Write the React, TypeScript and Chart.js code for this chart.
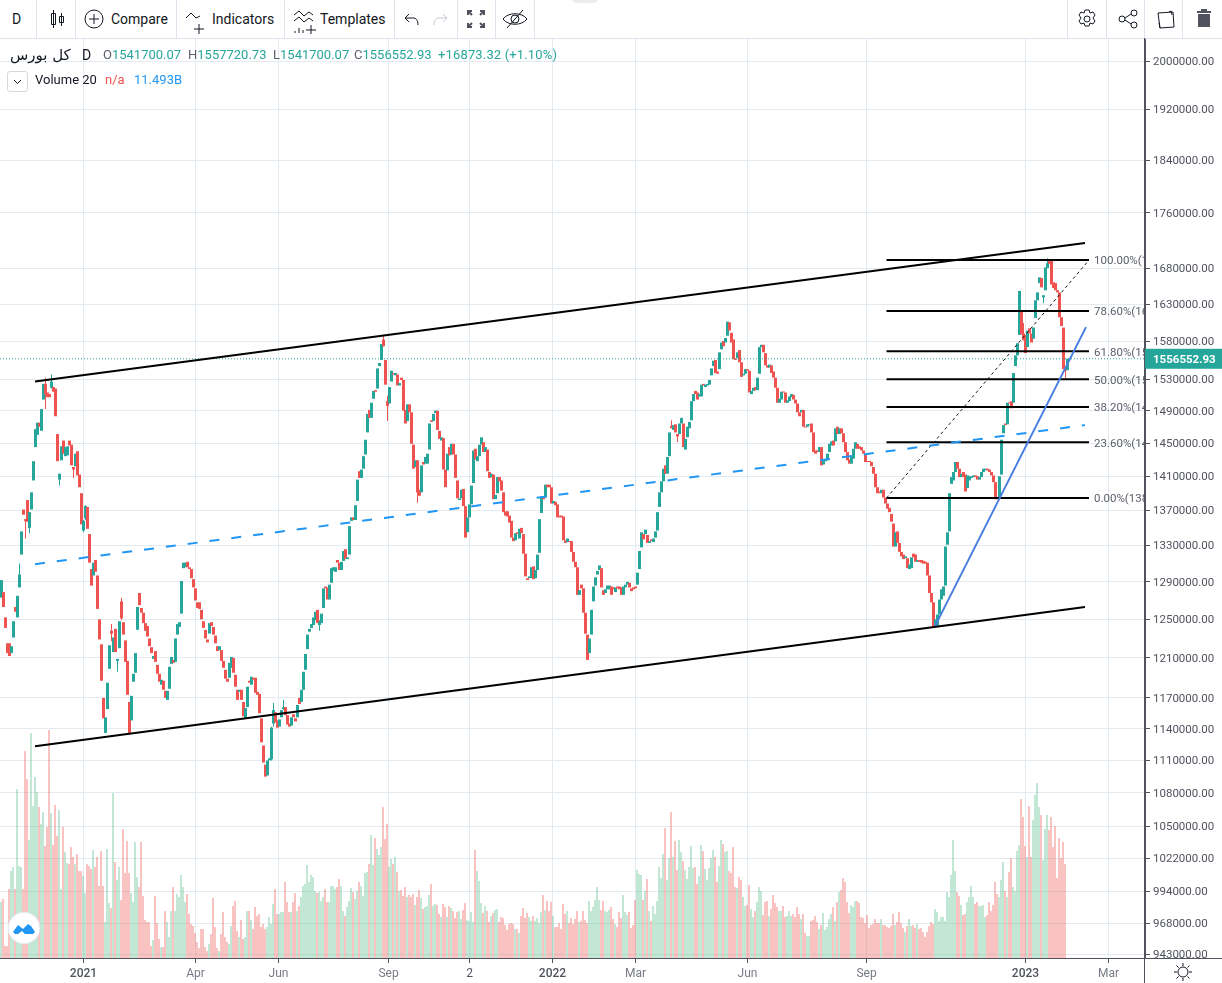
import React, { useEffect, useRef } from "react";
import { Chart, registerables } from "chart.js";

Chart.register(...registerables);

// prices in thousands, one candle per trading day
const opens = [
  1273,1279,1252,1225,1225,1215,1231,1263,1252,1284,1320,1371,1360,1382,1350,1371,1405,1445,1460,1475,
  1465,1504,1524,1513,1511,1519,1520,1518,1461,1406,1429,1453,1434,1435,1453,1448,1421,1422,1440,1412,
  1390,1347,1361,1374,1343,1304,1297,1314,1297,1250,1224,1170,1136,1159,1199,1238,1216,1240,1207,1220,
  1269,1247,1228,1207,1166,1148,1186,1195,1239,1278,1262,1257,1246,1243,1230,1221,1209,1217,1203,1194,
  1183,1187,1177,1168,1179,1204,1208,1206,1234,1242,1256,1305,1306,1312,1306,1304,1293,1283,1268,1268,
  1260,1248,1239,1229,1235,1247,1242,1233,1222,1218,1218,1207,1198,1189,1190,1200,1210,1193,1178,1176,
  1178,1166,1150,1161,1187,1183,1190,1190,1176,1174,1150,1124,1106,1096,1110,1111,1145,1156,1148,1142,
  1151,1159,1161,1153,1145,1143,1154,1150,1151,1170,1166,1178,1198,1219,1237,1241,1244,1249,1260,1244,
  1246,1262,1285,1284,1271,1289,1302,1301,1314,1311,1303,1313,1326,1315,1320,1358,1362,1359,1381,1416,
  1408,1419,1436,1463,1491,1481,1505,1516,1518,1547,1555,1582,1555,1502,1499,1527,1538,1535,1536,1522,
  1532,1529,1491,1477,1498,1488,1448,1421,1429,1394,1391,1427,1425,1425,1442,1478,1477,1487,1490,1465,
  1453,1456,1418,1417,1445,1436,1449,1436,1405,1382,1384,1395,1375,1345,1362,1377,1402,1443,1428,1434,
  1448,1451,1439,1442,1415,1409,1412,1383,1390,1409,1405,1391,1369,1369,1364,1358,1339,1336,1345,1338,
  1350,1343,1321,1294,1294,1294,1307,1294,1303,1322,1367,1385,1385,1400,1400,1397,1378,1380,1377,1364,
  1364,1363,1336,1334,1335,1335,1323,1312,1306,1276,1287,1283,1257,1234,1215,1234,1269,1286,1298,1303,
  1305,1281,1278,1282,1282,1285,1284,1279,1285,1285,1284,1276,1284,1287,1289,1283,1284,1285,1287,1304,
  1328,1343,1343,1342,1333,1337,1334,1339,1347,1374,1391,1404,1423,1413,1434,1471,1466,1473,1461,1461,
  1474,1474,1442,1457,1468,1478,1502,1515,1513,1508,1508,1524,1520,1522,1523,1535,1547,1555,1540,1543,
  1569,1580,1578,1587,1605,1591,1582,1556,1557,1568,1552,1535,1537,1543,1541,1511,1515,1520,1516,1537,
  1572,1575,1564,1548,1545,1548,1540,1532,1519,1500,1504,1514,1513,1500,1502,1507,1510,1504,1499,1488,
  1488,1491,1470,1470,1472,1474,1463,1441,1441,1439,1445,1424,1428,1429,1439,1447,1453,1452,1470,1461,
  1468,1462,1451,1439,1430,1425,1431,1443,1449,1446,1445,1441,1437,1428,1428,1427,1421,1413,1397,1392,
  1390,1394,1385,1378,1373,1366,1355,1329,1346,1333,1323,1320,1316,1316,1304,1305,1321,1320,1312,1314,
  1314,1313,1312,1311,1297,1278,1268,1242,1242,1255,1271,1275,1286,1331,1346,1401,1405,1415,1427,1419,
  1409,1415,1412,1396,1405,1408,1409,1411,1410,1406,1409,1415,1417,1419,1418,1415,1411,1403,1384,1384,
  1412,1462,1474,1473,1500,1502,1500,1547,1561,1588,1620,1590,1588,1572,1597,1590,1583,1611,1635,1659,
  1666,1639,1649,1680,1690,1690,1660,1659,1649,1646,1612,1598,1544,1541.7,
];
const closes = [
  1292,1263,1241,1215,1212,1222,1248,1258,1275,1298,1346,1365,1358,1357,1368,1391,1428,1467,1475,1470,
  1492,1524,1511,1507,1507,1527,1514,1483,1428,1413,1446,1437,1445,1446,1447,1423,1418,1437,1411,1397,
  1354,1358,1375,1349,1311,1286,1311,1301,1261,1229,1187,1150,1151,1185,1223,1235,1231,1216,1209,1248,
  1251,1234,1206,1173,1136,1172,1194,1215,1263,1265,1257,1246,1238,1232,1222,1215,1212,1206,1194,1186,
  1188,1178,1170,1177,1201,1211,1205,1230,1245,1247,1291,1311,1311,1306,1304,1294,1284,1270,1262,1261,
  1250,1241,1230,1226,1246,1243,1234,1225,1217,1222,1207,1200,1189,1186,1205,1211,1195,1181,1168,1178,
  1168,1152,1160,1181,1185,1191,1188,1175,1173,1155,1127,1108,1095,1110,1112,1141,1158,1146,1141,1149,
  1158,1161,1153,1144,1142,1151,1151,1147,1163,1164,1178,1196,1214,1234,1240,1245,1252,1258,1246,1247,
  1256,1283,1283,1271,1287,1305,1306,1306,1311,1303,1312,1324,1315,1317,1352,1362,1359,1376,1406,1408,
  1418,1434,1454,1486,1481,1500,1515,1514,1544,1551,1576,1573,1523,1496,1520,1541,1536,1538,1522,1525,
  1529,1490,1474,1498,1488,1449,1419,1429,1391,1387,1423,1424,1433,1437,1474,1476,1486,1490,1466,1455,
  1457,1418,1397,1437,1435,1449,1436,1408,1384,1384,1394,1375,1339,1362,1377,1399,1441,1430,1434,1448,
  1457,1439,1445,1416,1408,1413,1383,1388,1409,1404,1393,1368,1364,1363,1356,1339,1335,1344,1343,1349,
  1344,1321,1296,1292,1296,1306,1293,1303,1320,1360,1386,1383,1400,1397,1397,1378,1381,1376,1362,1362,
  1362,1336,1333,1338,1334,1323,1312,1306,1276,1281,1283,1257,1235,1208,1230,1260,1285,1295,1302,1308,
  1284,1276,1282,1286,1286,1276,1282,1284,1283,1282,1276,1285,1287,1290,1284,1280,1282,1283,1300,1324,
  1345,1337,1348,1333,1335,1335,1338,1346,1368,1391,1404,1419,1413,1433,1463,1468,1472,1463,1458,1474,
  1481,1445,1455,1470,1476,1502,1511,1511,1504,1511,1523,1522,1523,1524,1529,1544,1554,1538,1537,1565,
  1578,1573,1584,1606,1594,1578,1556,1555,1565,1552,1533,1537,1543,1541,1513,1515,1519,1516,1532,1572,
  1575,1565,1548,1545,1549,1538,1532,1519,1500,1505,1514,1513,1500,1503,1508,1511,1504,1499,1488,1483,
  1491,1470,1469,1473,1473,1463,1439,1437,1439,1445,1423,1429,1430,1437,1449,1452,1447,1468,1461,1468,
  1462,1451,1439,1429,1425,1433,1443,1451,1443,1443,1441,1437,1427,1427,1427,1422,1413,1397,1390,1390,
  1394,1385,1378,1372,1368,1357,1329,1345,1333,1323,1318,1315,1318,1305,1309,1317,1317,1312,1314,1312,
  1311,1310,1310,1297,1278,1268,1242,1250,1255,1271,1282,1285,1329,1345,1390,1409,1415,1427,1419,1409,
  1413,1409,1392,1411,1410,1410,1411,1409,1406,1409,1415,1419,1419,1417,1415,1411,1403,1383,1383,1410,
  1454,1472,1472,1500,1499,1493,1538,1561,1577,1648,1589,1581,1564,1594,1590,1578,1598,1635,1646,1667,
  1653,1642,1681,1687,1686,1657,1652,1649,1646,1612,1600,1543,1541,1556.55293,
];

// only the wicks that show past the bodies
const wickIndex = [9,12,14,22,25,29,36,41,42,55,58,60,135,136,141,159,191,193,208,335,338,511,521,523,532];
const wickHigh = [1310,1360,1368,1532,1536,1413,1421,1359,1376,1245,1209,1273,1142,1165,1168,1249,1588,1509,1429,1478,1461,1604,1642,1694,1544];
const wickLow = [1285,1338,1344,1492,1518,1399,1408,1345,1359,1227,1196,1249,1110,1142,1158,1238,1573,1477,1379,1469,1451,1581,1631,1680,1532];

// volume in billions, the last candle has none yet
const volumes = [
  5.6,5.9,1.2,1.2,6.9,8.7,9.1,6.9,16.9,9.2,9.1,6.9,20.7,17.9,11.8,22.5,15.2,18.1,16.6,15.1,
  13.4,14.6,11.2,13.1,22.8,14.5,11.3,15.3,12.2,14.8,6.9,13.1,10.6,9.5,9.4,11.1,10.1,9.4,10.4,8.7,
  8.7,8.2,6.5,9.4,9.2,8.9,10.8,9.1,10.1,7.2,10.7,7.2,3.6,10.9,5.5,5.0,16.5,9.6,7.8,9.1,
  5.8,12.9,8.5,11.7,8.5,6.5,5.6,11.6,8.1,7.1,11.6,6.2,3.8,3.6,3.6,1.2,1.8,6.2,3.5,1.9,
  1.1,1.1,4.7,3.6,2.1,4.7,7.1,4.7,6.4,6.1,8.3,7.1,5.6,6.4,4.4,3.4,3.2,2.5,1.6,1.0,
  2.9,2.9,1.1,0.7,1.4,2.4,6.0,3.1,1.0,0.7,2.4,4.6,2.1,1.6,1.4,3.2,5.2,5.7,2.7,2.1,
  3.8,1.9,2.1,4.7,4.7,3.8,2.9,5.1,4.2,4.4,3.1,3.4,2.9,3.1,4.1,3.4,5.4,6.9,4.4,4.4,
  4.6,4.6,7.6,5.6,4.6,4.6,5.6,6.5,4.7,5.2,6.1,7.2,7.4,9.3,7.6,8.3,8.1,6.7,6.5,6.6,
  5.7,6.1,6.9,5.6,5.6,7.2,7.2,6.9,7.1,7.9,7.2,4.7,4.2,5.1,5.7,7.0,6.6,5.9,6.7,7.6,
  7.2,6.2,8.5,8.6,9.4,12.3,9.3,12.0,10.9,10.3,11.1,15.1,11.9,13.4,9.1,9.9,9.4,10.1,8.6,6.7,
  6.8,6.2,7.1,6.1,6.3,6.1,6.4,5.3,6.1,6.8,6.0,4.9,5.1,5.2,6.3,7.4,5.2,5.4,5.3,4.4,
  4.1,5.4,5.1,4.1,5.2,5.0,4.7,4.0,4.6,4.7,3.9,4.8,5.5,3.8,3.7,4.6,3.6,10.8,8.7,7.7,
  5.5,4.5,5.2,4.7,3.6,4.2,4.5,4.8,4.9,3.6,4.1,4.0,3.3,2.8,3.4,3.5,3.4,2.9,2.9,2.5,
  4.2,5.0,4.0,4.5,4.1,3.7,4.2,3.7,4.0,3.5,4.6,6.3,4.8,5.7,4.7,5.6,4.2,3.1,3.1,3.5,
  2.9,5.4,4.4,4.7,3.5,4.0,3.4,3.9,4.7,3.6,3.7,4.7,3.8,3.5,5.7,4.7,5.1,5.8,7.1,5.8,
  4.8,5.7,4.7,4.6,4.8,5.1,3.9,3.4,3.1,4.6,4.0,6.3,4.6,4.3,4.6,3.0,3.3,5.8,8.8,8.4,
  8.3,5.8,6.7,7.9,4.7,3.7,5.2,4.4,5.7,9.1,8.0,10.4,13.0,7.8,10.0,14.6,10.1,11.7,8.8,11.8,
  10.6,9.7,8.8,7.9,9.1,11.2,9.0,9.1,7.4,8.2,11.3,10.7,8.9,7.8,9.0,10.0,10.8,10.1,7.6,9.2,
  11.8,11.4,10.6,10.7,8.7,8.5,11.1,7.1,7.0,8.1,7.8,6.1,5.2,5.3,7.3,4.9,4.1,4.7,5.6,7.1,
  6.7,4.3,5.6,5.7,4.2,4.9,6.3,5.5,5.1,4.7,4.7,5.2,4.1,4.2,4.7,4.2,4.4,4.1,5.1,4.4,
  3.9,4.4,2.5,2.2,2.2,3.7,3.8,4.2,3.6,2.9,3.3,4.5,2.8,3.1,3.9,4.4,5.1,3.7,5.6,6.6,
  6.8,8.0,7.6,5.6,4.5,5.3,5.1,5.7,5.7,5.5,4.1,4.0,3.5,4.3,3.0,3.3,3.4,3.9,3.5,3.5,
  3.9,3.3,3.3,3.1,3.0,3.2,4.4,3.3,3.6,4.6,3.5,3.0,2.6,3.2,3.9,3.2,3.3,3.0,3.4,2.9,
  3.0,2.6,2.1,2.6,3.2,3.6,3.4,4.9,4.6,3.7,4.1,4.1,3.7,6.6,6.1,8.3,11.8,8.7,6.6,6.2,
  5.3,4.3,4.4,5.6,6.1,7.2,6.1,5.4,5.6,5.2,5.2,5.3,4.1,4.3,5.6,4.7,5.3,7.6,6.4,6.1,
  7.8,9.6,6.7,6.1,8.6,10,7.1,6.7,10.7,11.3,15.9,14.1,11.2,10.1,15.2,10.1,13.8,16.3,17.5,15.1,
  14.3,9.8,12.9,14.3,12.8,14.1,11.1,13.2,8,12,10,11.6,9.4,
];

const yTicks = [2000,1920,1840,1760,1680,1630,1580,1530,1490,1450,1410,1370,1330,1290,1250,1210,1170,1140,1110,1080,1050,1022,994,968,943];
const xTickIndex = [41,97,138.5,193.5,234,275.5,317,373,432.5,512,553.5];
const xTickLabels = ["2021","Apr","Jun","Sep","2","2022","Mar","Jun","Sep","2023","Mar"];

const fibNames = ["100.00%","78.60%","61.80%","50.00%","38.20%","23.60%","0.00%"];
const fibPrices = [1691.4,1620.5,1566.6,1530,1494.6,1451,1384.4];
const fibStart = 442.5;
const fibEnd = 543.75;
const fibLabelAt = 546.25;

const lastPrice = 1556.55293;
const UP = "#26a69a";
const DOWN = "#ef5350";
const UP_VOL = "rgba(83,185,135,0.35)";
const DOWN_VOL = "rgba(239,83,80,0.35)";
const AXIS = "#50535e";
const GRID = "#e3ebf1";
const FONT = "Roboto, sans-serif";

const twoPoints = (x0: number, y0: number, x1: number, y1: number) => [{ x: x0, y: y0 }, { x: x1, y: y1 }];

const overlay = {
  id: "overlay",
  afterDraw(chart: any) {
    const { ctx, chartArea, scales } = chart;
    ctx.save();
    ctx.beginPath();
    ctx.rect(chartArea.left, chartArea.top, chartArea.right - chartArea.left, chartArea.bottom - chartArea.top);
    ctx.clip();
    ctx.font = `11.5px ${FONT}`;
    ctx.fillStyle = "#5d606b";
    ctx.textBaseline = "middle";
    fibNames.forEach((name, i) => {
      ctx.fillText(`${name}(${(fibPrices[i] * 1000).toFixed(2)})`, scales.x.getPixelForValue(fibLabelAt), scales.y.getPixelForValue(fibPrices[i]) + 1.5);
    });
    ctx.restore();

    const y = scales.y.getPixelForValue(lastPrice);
    ctx.save();
    ctx.fillStyle = UP;
    ctx.fillRect(chartArea.right, y - 10, 77, 20);
    ctx.fillStyle = "#fff";
    ctx.font = `bold 11.5px ${FONT}`;
    ctx.textBaseline = "middle";
    ctx.fillText((lastPrice * 1000).toFixed(2), chartArea.right + 8, y + 1);
    ctx.restore();
  },
};

const legendText: React.CSSProperties = { position: "absolute", whiteSpace: "nowrap", fontFamily: FONT, fontSize: 13, lineHeight: "16px" };
const toolText: React.CSSProperties = { position: "absolute", top: 10, whiteSpace: "nowrap", fontFamily: FONT, fontSize: 14, lineHeight: "18px", color: "#131722" };

function Ohlc({ x, letter, value }: { x: number; letter: string; value: string }) {
  return (
    <div style={{ ...legendText, left: x, top: 47 }}>
      <span style={{ color: "#5d606b" }}>{letter}</span>
      <span style={{ color: UP }}>{value}</span>
    </div>
  );
}

function Icon({ x, y, w, h, children }: { x: number; y: number; w: number; h: number; children: React.ReactNode }) {
  return (
    <svg style={{ position: "absolute", left: x, top: y }} width={w} height={h} viewBox={`0 0 ${w} ${h}`} fill="none" stroke="#131722" strokeWidth="1">
      {children}
    </svg>
  );
}

function Toolbar() {
  const dividers = [36, 75, 176, 284, 394, 457, 495, 534, 1067, 1106, 1144, 1182];
  return (
    <div style={{ position: "absolute", left: 0, top: 0, width: 1222, height: 38, borderBottom: "1px solid #e0e3eb", background: "#fff", overflow: "hidden" }}>
      {dividers.map((x) => (
        <div key={x} style={{ position: "absolute", left: x, top: 0, width: 1, height: 38, background: "#e0e3eb" }} />
      ))}
      <div style={{ ...toolText, left: 12 }}>D</div>
      <Icon x={48} y={8} w={18} h={22}>
        <path d="M5.5 2v18M3.5 5.5h4v11h-4zM13.5 5v13M11.5 8.5h4v6h-4z" />
      </Icon>
      <Icon x={84} y={9} w={20} h={20}>
        <circle cx="10" cy="10" r="9" />
        <path d="M10 5v10M5 10h10" />
      </Icon>
      <div style={{ ...toolText, left: 111 }}>Compare</div>
      <Icon x={185} y={12} w={22} h={24}>
        <path d="M1 6l5-5 5 5 4-2M14 12v10M9 17h10" />
      </Icon>
      <div style={{ ...toolText, left: 212 }}>Indicators</div>
      <Icon x={293} y={9} w={24} h={26}>
        <path d="M1 6l5-4 5 5 5-4 4 3M1 12l5-4 5 5 5-4 4 3M2 24v-2M6 24v-5M10 24v-3M18 16v9M13 21h10" />
      </Icon>
      <div style={{ ...toolText, left: 320 }}>Templates</div>
      <Icon x={404} y={12} w={16} h={14}>
        <path d="M5 2L1 6l4 4M1 6h8c3 0 5 2 5 7" />
      </Icon>
      <Icon x={432} y={12} w={16} h={14}>
        <path stroke="#c4c7cf" d="M11 2l4 4-4 4M15 6H7c-3 0-5 2-5 7" />
      </Icon>
      <Icon x={466} y={9} w={20} h={20}>
        <path stroke="#50535e" strokeWidth="2" d="M2 2l4 4M18 2l-4 4M2 18l4-4M18 18l-4-4M2 6V2h4M14 2h4v4M2 14v4h4M18 14v4h-4" />
      </Icon>
      <Icon x={502} y={8} w={26} h={22}>
        <path d="M1 11c5-7 19-7 24 0-5 7-19 7-24 0zM5 20L21 2" />
        <circle cx="13" cy="11" r="4" />
      </Icon>
      <Icon x={1076} y={8} w={22} h={22}>
        <circle cx="11" cy="11" r="3" />
        <path d="M9 2h4l1 3 3-1 2 3-2 3 2 3-2 3-3-1-1 3H9l-1-3-3 1-2-3 2-3-2-3 2-3 3 1z" />
      </Icon>
      <Icon x={1118} y={9} w={20} h={20}>
        <circle cx="4" cy="10" r="3" />
        <circle cx="16" cy="4" r="3" />
        <circle cx="16" cy="16" r="3" />
        <path d="M7 9l6-4M7 11l6 4" />
      </Icon>
      <Icon x={1156} y={9} w={20} h={20}>
        <path d="M2 4l15-1 1 15-14 1zM4 19l-1-5M13 3l2-1 1 4" />
      </Icon>
      <Icon x={1196} y={9} w={16} h={20}>
        <path fill="#50535e" stroke="none" d="M2 5h12v13H2zM1 2h14v2H1zM5 0h6v2H5z" />
      </Icon>
      <div style={{ position: "absolute", left: 570, top: -12, width: 30, height: 15, borderRadius: 15, background: "#ececee" }} />
    </div>
  );
}

function Legend() {
  return (
    <>
      <div style={{ ...legendText, left: 10, top: 47, color: "#131722", fontSize: 15, fontFamily: "'DejaVu Sans', sans-serif" }} dir="rtl">کل بورس</div>
      <div style={{ ...legendText, left: 82, top: 47, color: "#131722", fontSize: 14 }}>D</div>
      <Ohlc x={103} letter="O" value="1541700.07" />
      <Ohlc x={188} letter="H" value="1557720.73" />
      <Ohlc x={273} letter="L" value="1541700.07" />
      <Ohlc x={354} letter="C" value="1556552.93" />
      <div style={{ ...legendText, left: 438, top: 47, color: UP, letterSpacing: 0.15 }}>+16873.32 (+1.10%)</div>
      <div style={{ position: "absolute", left: 7, top: 71, width: 19, height: 19, border: "1px solid #d6d8e0", borderRadius: 3, background: "#fff" }}>
        <svg width="19" height="19" viewBox="0 0 19 19" fill="none" stroke="#131722">
          <path d="M6 8l3.5 3.5L13 8" />
        </svg>
      </div>
      <div style={{ ...legendText, left: 35, top: 72, color: "#131722" }}>Volume 20</div>
      <div style={{ ...legendText, left: 105, top: 72, color: DOWN }}>n/a</div>
      <div style={{ ...legendText, left: 134, top: 72, color: "#2196f3" }}>11.493B</div>
    </>
  );
}

export default function App() {
  const canvasEl = useRef<HTMLCanvasElement>(null);

  useEffect(() => {
    if (!canvasEl.current) return;
    const candleColors = closes.map((c, i) => (c >= opens[i] ? UP : DOWN));
    const volumeColors = volumes.map((_, i) => (closes[i] >= opens[i] ? UP_VOL : DOWN_VOL));
    const lineBase = { type: "line" as const, pointRadius: 0, fill: false, order: 1, xAxisID: "x", yAxisID: "y", borderCapStyle: "butt" as const };

    const chart = new Chart(canvasEl.current, {
      type: "bar",
      data: {
        datasets: [
          {
            data: volumes.map((v, i) => ({ x: i, y: v })) as any,
            backgroundColor: volumeColors,
            barThickness: 2,
            inflateAmount: 0,
            grouped: false,
            xAxisID: "xv",
            yAxisID: "yv",
            order: 5,
          },
          {
            data: wickIndex.map((x, i) => ({ x, y: [wickLow[i], wickHigh[i]] })) as any,
            backgroundColor: wickIndex.map((x) => candleColors[x]),
            barThickness: 1,
            inflateAmount: 0,
            grouped: false,
            xAxisID: "x",
            yAxisID: "y",
            order: 4,
          },
          {
            data: opens.map((o, i) => ({ x: i, y: [o, closes[i]] })) as any,
            backgroundColor: candleColors,
            barThickness: 3,
            inflateAmount: 0,
            minBarLength: 1,
            grouped: false,
            xAxisID: "x",
            yAxisID: "y",
            order: 3,
          },
          { ...lineBase, data: twoPoints(16.75, 1527, 541.75, 1716), borderColor: "#000", borderWidth: 2 } as any,
          { ...lineBase, data: twoPoints(16.75, 1123.4, 541.75, 1263), borderColor: "#000", borderWidth: 2 } as any,
          { ...lineBase, data: twoPoints(16.75, 1309.4, 541.75, 1472), borderColor: "#2196f3", borderWidth: 2, borderDash: [10, 12] } as any,
          { ...lineBase, data: twoPoints(466.75, 1242.8, 542.25, 1598.6), borderColor: "#4a7ee0", borderWidth: 2 } as any,
          { ...lineBase, data: twoPoints(fibStart, fibPrices[6], fibEnd, fibPrices[0]), borderColor: "#131722", borderWidth: 1, borderDash: [3, 3] } as any,
          ...fibPrices.map((p) => ({ ...lineBase, data: twoPoints(fibStart, p, fibEnd, p), borderColor: "#000", borderWidth: 2 }) as any),
          { ...lineBase, data: twoPoints(-0.75, lastPrice, 571.75, lastPrice), borderColor: UP, borderWidth: 1, borderDash: [1, 2] } as any,
        ],
      },
      options: {
        animation: false,
        responsive: false,
        events: [],
        layout: { padding: { top: 39, left: 0, right: 0, bottom: 0 } },
        plugins: { legend: { display: false }, tooltip: { enabled: false } },
        scales: {
          x: {
            type: "linear",
            offset: false,
            min: -0.75,
            max: 571.75,
            afterBuildTicks: (scale: any) => {
              scale.ticks = xTickIndex.map((value) => ({ value }));
            },
            afterFit: (scale: any) => {
              scale.height = 25;
            },
            grid: { color: GRID, tickColor: AXIS, tickLength: 5, offset: false },
            border: { color: AXIS, width: 1 },
            ticks: {
              autoSkip: false,
              maxRotation: 0,
              padding: 4,
              font: (c: any) => ({ family: FONT, size: 12, weight: /^\d{4}$/.test(c.tick?.label ?? "") ? 500 : 400 }),
              color: (c: any) => (/^\d/.test(c.tick?.label ?? "") ? AXIS : "#787b86"),
              callback: (value: any) => xTickLabels[xTickIndex.indexOf(Number(value))] ?? "",
            },
          },
          xv: { type: "linear", offset: false, display: false, min: -0.5, max: 572 },
          y: {
            type: "logarithmic",
            position: "right",
            min: 939.9,
            max: 2037.4,
            afterBuildTicks: (scale: any) => {
              scale.ticks = yTicks.map((value) => ({ value }));
            },
            afterFit: (scale: any) => {
              scale.width = 77;
            },
            grid: { color: GRID, tickColor: AXIS, tickLength: 5 },
            border: { color: AXIS, width: 1 },
            ticks: {
              autoSkip: false,
              padding: 3,
              labelOffset: 1,
              color: AXIS,
              font: { family: FONT, size: 11.5 },
              callback: (value: any) => (Number(value) * 1000).toFixed(2),
            },
          },
          yv: { type: "linear", display: false, min: 0, max: 91.9 },
        },
      },
      plugins: [overlay],
    });

    return () => chart.destroy();
  }, []);

  return (
    <div style={{ position: "absolute", left: 0, top: 0, width: 1222, height: 983, overflow: "hidden", background: "#fff" }}>
      <canvas ref={canvasEl} width={1222} height={983} style={{ position: "absolute", left: 0, top: 0 }} />
      <Toolbar />
      <Legend />
      <div style={{ position: "absolute", left: 1144, top: 38, width: 1, height: 945, background: AXIS }} />
      <div style={{ position: "absolute", left: 0, top: 958, width: 1222, height: 1, background: AXIS }} />
      <svg style={{ position: "absolute", left: 1173, top: 962 }} width="20" height="20" viewBox="0 0 20 20" fill="none" stroke="#131722">
        <circle cx="10" cy="10" r="5" />
        <path d="M10 1v3M10 16v3M1 10h3M16 10h3M3.5 3.5l2 2M14.5 14.5l2 2M3.5 16.5l2-2M14.5 5.5l2-2" />
      </svg>
      <svg style={{ position: "absolute", left: 7, top: 911 }} width="34" height="34" viewBox="0 0 34 34">
        <circle cx="17" cy="17" r="16" fill="#fff" stroke="#e0e3eb" />
        <path d="M6 21l5-7 5 4 5-5 3 2 4 6-2 2H18l-3-3-4 3H8z" fill="#2196f3" />
      </svg>
    </div>
  );
}
